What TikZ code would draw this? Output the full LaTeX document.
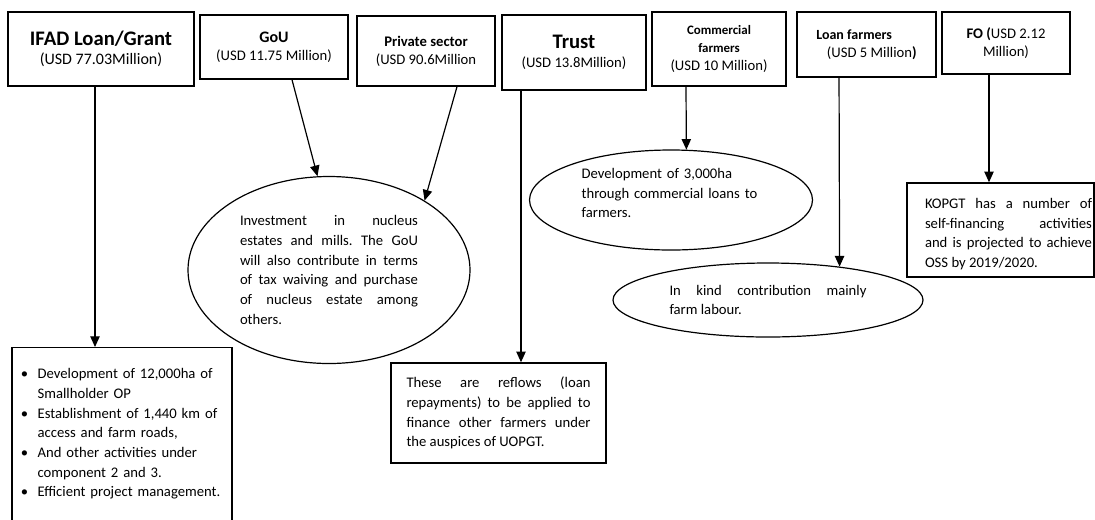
\documentclass[tikz,border=0pt]{standalone}
\usepackage{fontspec}
\setmainfont{Carlito}
\frenchspacing
\usetikzlibrary{arrows.meta, shapes.geometric}
\tikzstyle{src}=[draw=black, line width=1.1pt, align=center, inner sep=2pt, font=\fontsize{11}{13.5}\selectfont]
\tikzstyle{note}=[draw=black, line width=1.1pt, align=justify, font=\fontsize{11}{14.75}\selectfont]
\tikzstyle{oval}=[ellipse, draw=black, line width=0.9pt, inner sep=0pt, align=justify, font=\fontsize{11}{14.75}\selectfont]
\tikzstyle{flow}=[line width=0.9pt, -{Triangle[width=7pt,length=8pt]}]

\begin{document}
\begin{tikzpicture}[x=0.75pt, y=-0.75pt]
			\useasboundingbox (0,0) rectangle (1095,519);
			% funding sources
			\node[src, minimum width=139.5pt, minimum height=55.5pt] (ifad) at (101,49) {{\fontsize{15.5}{18}\selectfont\bfseries IFAD Loan/Grant}\\[1pt]{\fontsize{12}{14}\selectfont(USD 77.03Million)}};
			\node[src, minimum width=111pt, minimum height=48pt] (gou) at (274,47) {{\fontsize{12}{14}\selectfont\bfseries GoU}\\(USD 11.75 Million)};
			\node[src, minimum width=103.5pt, minimum height=52.5pt] (priv) at (426,51) {{\fontsize{11}{13}\selectfont\bfseries Private sector}\\(USD 90.6Million};
			\node[src, minimum width=108pt, minimum height=56.25pt] (trust) at (574,52.5) {{\fontsize{15.5}{18}\selectfont\bfseries Trust}\\[1pt](USD 13.8Million)};
			\node[src, minimum width=100.5pt, minimum height=55.5pt] (comm) at (719,49) {{\fontsize{9.7}{12}\selectfont\bfseries Commercial}\\{\fontsize{9.7}{12}\selectfont\bfseries farmers}\\(USD 10 Million)};
			\node[src, minimum width=104.25pt, minimum height=48.75pt, align=left] (loan) at (866.5,44.5) {{\fontsize{10.5}{12.5}\selectfont\bfseries Loan farmers}\\\hspace*{8pt}(USD 5 Million\textbf{)}};
			\node[src, minimum width=96pt, minimum height=46.5pt] (fo) at (1006,43) {\textbf{FO (}USD 2.12\\Million)};

			% uses of the funds
			\node[note, anchor=north, text width=151.5pt, inner xsep=6.75pt, inner ysep=13pt, align=left] (ifadbox) at (122,347) {%
				\begin{tabular}{@{}l@{\hspace{7pt}}l@{}}
					\textbullet & Development of 12,000ha of\\
					& Smallholder OP\\
					\textbullet & Establishment of 1,440 km of\\
					& access and farm roads,\\
					\textbullet & And other activities under\\
					& component 2 and 3.\\
					\textbullet & Efficient project management.\\
					& \\
				\end{tabular}};
			\node[oval, minimum width=211.5pt, minimum height=140.25pt, text width=133.5pt] (inv) at (329,270) {Investment in nucleus\linebreak estates and mills. The GoU\linebreak will also contribute in terms\linebreak of tax waiving and purchase\linebreak of nucleus estate among\linebreak others.};
			\node[oval, minimum width=212.25pt, minimum height=75pt, text width=134pt, align=left] (dev) at (671,200) {Development of 3,000ha\\through commercial loans to\\farmers.\par\nointerlineskip\rule{0pt}{10.5pt}};
			\node[oval, minimum width=232.5pt, minimum height=55.5pt, text width=147.75pt] (kind) at (768,300) {In kind contribution mainly\linebreak farm labour.};
			\node[note, minimum height=75pt, text width=138pt, inner xsep=11.6pt] (reflow) at (498.5,413) {These are reflows (loan\linebreak repayments) to be applied to\linebreak finance other farmers under\linebreak the auspices of UOPGT.};
			\node[draw=black, line width=1.1pt, minimum height=70.5pt, inner xsep=1.5pt, font=\fontsize{11}{14.75}\selectfont] (kopgt) at (1000.5,230) {\hspace*{12pt}\begin{minipage}{125.25pt}\vspace*{6pt}KOPGT has a number of\linebreak self-financing activities\linebreak and is projected to achieve\linebreak OSS by 2019/2020.\end{minipage}};

			% connectors
			\coordinate (ifadout) at ([xshift=-4.5pt]ifad.south);
			\coordinate (trustout) at ([xshift=-39.75pt]trust.south);
			\coordinate (fout) at ([xshift=-12.75pt]fo.south);
			\draw[flow] (ifadout) -- (ifadout |- ifadbox.north);
			\draw[flow] ([xshift=13.5pt]gou.south) -- (inv.97);
			\draw[flow] ([xshift=23.25pt]priv.south) -- (inv.36);
			\draw[flow] (trustout) -- (trustout |- reflow.north);
			\draw[flow] ([xshift=-24.75pt]comm.south) -- (dev.73);
			\draw[flow] ([xshift=-20.6pt]loan.south) -- (kind.25);
			\draw[flow] (fout) -- (fout |- kopgt.north);
		\end{tikzpicture}
\end{document}
